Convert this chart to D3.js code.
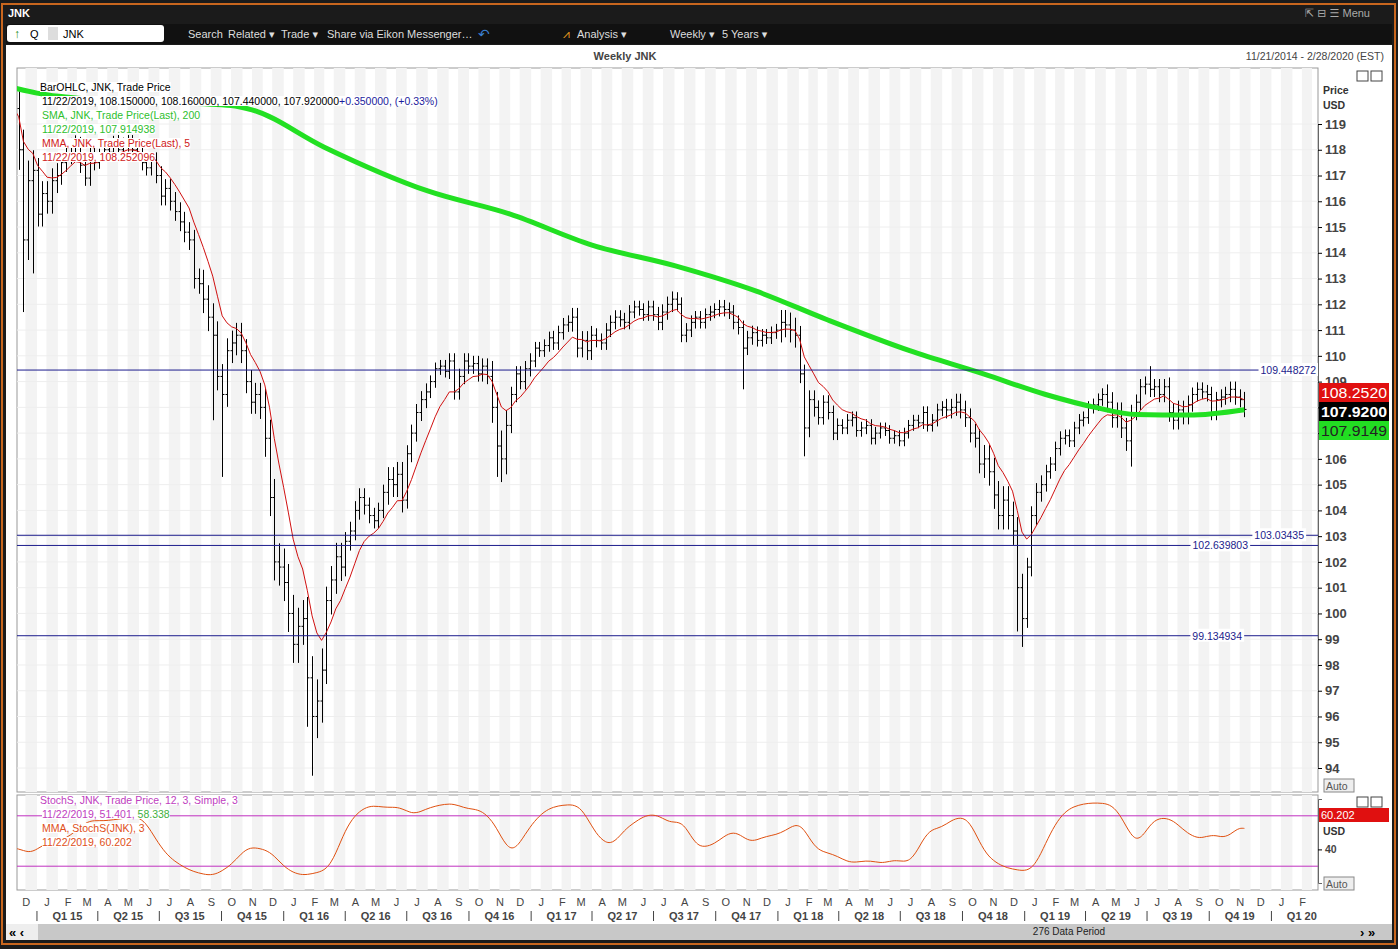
<!DOCTYPE html>
<html><head><meta charset="utf-8">
<script src="https://cdn.jsdelivr.net/npm/d3@7"></script>
<style>body{margin:0;background:#1b1b1b}svg{display:block;font-family:"Liberation Sans","DejaVu Sans",sans-serif}</style>
</head><body><svg id="c" width="1398" height="949"></svg>
<script>
// ---- DATA ----
const startWeek = "2014-11-28";
const closes = [
119.6,
118.0,114.5,116.8,117.2,
115.5,116.3,116.0,116.8,117.0,
117.5,117.8,118.1,118.2,
117.4,116.9,117.8,117.5,
117.8,118.0,117.9,118.3,
118.0,118.2,118.3,118.0,117.8,
117.5,117.3,117.6,117.0,
116.2,116.5,116.0,115.6,115.2,
114.8,114.5,113.0,112.8,
112.2,111.5,110.8,109.2,
108.5,110.2,110.5,110.8,110.2,
109.0,108.2,108.5,108.0,
106.8,104.5,102.0,101.8,
101.2,100.0,98.8,99.5,99.8,
97.5,96.0,96.6,97.8,
100.5,101.3,102.2,101.8,
102.8,103.2,104.0,104.5,104.2,
103.8,103.6,104.0,104.7,
105.2,105.0,105.4,104.4,
106.2,107.0,107.8,108.3,108.6,
109.0,109.5,109.6,109.4,
109.8,108.6,109.2,109.8,109.6,
109.7,109.3,109.6,109.2,
108.0,106.5,106.0,107.3,
108.5,109.3,109.0,109.5,109.8,
110.3,110.2,110.4,110.7,
110.5,110.9,111.2,111.3,
111.5,110.3,110.6,110.2,110.8,
110.6,110.5,111.0,111.3,
111.5,111.4,111.3,111.7,
111.9,111.8,111.6,111.9,111.6,
111.3,111.7,112.0,112.2,
112.0,110.8,111.0,111.3,
111.5,111.3,111.6,111.7,111.8,
111.9,111.8,111.7,111.3,
111.1,110.3,110.7,110.9,
110.6,110.8,110.7,110.9,111.0,
111.3,111.2,111.0,110.8,
109.3,107.2,108.3,108.0,
107.6,108.2,107.8,107.0,107.3,
107.2,107.5,107.6,107.1,
107.2,107.3,106.8,107.0,
107.2,107.1,106.8,106.9,106.7,
107.0,107.3,107.5,107.4,
107.8,107.3,107.5,107.9,108.0,
107.9,108.0,108.2,107.9,
107.6,107.0,106.8,105.8,
106.0,105.5,104.6,103.8,104.4,
103.8,103.2,101.0,99.8,
101.8,103.8,104.7,105.0,
105.5,105.8,106.4,106.8,
106.9,106.7,107.2,107.5,107.6,
108.0,108.1,108.3,108.5,
108.2,107.6,107.8,107.2,106.7,
107.8,108.2,108.8,108.9,
108.7,108.8,108.5,108.8,
107.8,107.5,107.9,107.7,108.1,
108.5,108.7,108.6,108.5,
107.8,108.3,108.4,108.5,
108.7,108.4,108.3,107.92];
// typical weekly high-low range per calendar month (Dec 2014 .. Nov 2019)
const monthRange = [2.6,1.6,1.2,1.0,0.8,0.9,1.0,1.2,1.3,1.8,1.6,1.5,2.4,2.4,2.8,1.8,1.2,1.0,1.6,1.1,0.8,1.0,1.0,2.0,1.0,0.8,0.9,1.2,0.9,0.9,0.8,1.0,0.9,0.8,0.9,0.9,0.8,1.6,1.2,0.9,0.8,0.8,0.7,0.7,0.8,1.1,1.2,1.8,1.8,1.2,0.9,0.8,0.8,1.3,1.0,1.0,1.2,0.9,1.0,1.0];
const lowSpikes = [["2014-12-12",111.7],["2014-12-26",113.2],["2015-09-18",107.5],["2015-10-02",105.3],["2016-02-05",95.6],["2016-02-12",93.7],["2016-11-11",105.3],["2016-11-18",105.1],["2017-11-10",108.7],["2018-02-09",106.1],["2018-12-21",99.3],["2018-12-28",98.7],["2019-06-07",105.7]];
const highSpikes = [["2019-07-05",109.6]];
const smaDates = ["2014-11-28","2015-01-01","2015-04-01","2015-07-01","2015-10-15","2015-11-15","2016-03-01","2016-08-01","2016-12-01","2017-04-01","2017-08-01","2017-12-01","2018-03-15","2018-07-15","2018-11-01","2019-02-01","2019-04-15","2019-06-15","2019-09-01","2019-11-22"];
const smaValues = [120.4,120.2,119.95,119.85,119.72,119.55,118.1,116.4,115.5,114.3,113.5,112.5,111.4,110.2,109.3,108.5,108.0,107.72,107.7,107.91];
const hLines = [109.448272,103.03435,102.639803,99.134934];
const priceTicks = d3.range(94,120);
const monthLetters = ["J","F","M","A","M","J","J","A","S","O","N","D"];

// ---- LAYOUT ----
const svg = d3.select("#c");
const L=17,R=1318,T=68,B=792, ST=795, SB=890;
const FS=10.5;
svg.append("rect").attr("width",1398).attr("height",949).attr("fill","#1b1b1b");
svg.append("rect").attr("x",2).attr("y",4).attr("width",1393).attr("height",940).attr("fill","none").attr("stroke","#c8661e").attr("stroke-width",2);
svg.append("text").attr("x",8).attr("y",17).attr("fill","#fff").attr("font-weight","bold").attr("font-size",11).text("JNK");
svg.append("text").attr("x",1305).attr("y",17).attr("fill","#aaa").attr("font-size",11).text("⇱  ⊟  ☰ Menu");
svg.append("rect").attr("x",6).attr("y",24).attr("width",1386).attr("height",20).attr("fill","#111");
svg.append("rect").attr("x",7).attr("y",25).attr("width",157).attr("height",17).attr("rx",3).attr("fill","#fff");
svg.append("text").attr("x",14).attr("y",38).attr("fill","#1a8a1a").attr("font-size",12).text("↑");
svg.append("text").attr("x",30).attr("y",38).attr("fill","#000").attr("font-size",11).text("Q");
svg.append("rect").attr("x",48).attr("y",27).attr("width",10).attr("height",13).attr("fill","#ddd");
svg.append("text").attr("x",63).attr("y",38).attr("fill","#000").attr("font-size",11).text("JNK");
const tb=[[188,"Search"],[228,"Related ▾"],[281,"Trade ▾"],[327,"Share via Eikon Messenger…"],[577,"Analysis ▾"],[670,"Weekly ▾"],[722,"5 Years ▾"]];
tb.forEach(d=>svg.append("text").attr("x",d[0]).attr("y",38).attr("fill","#ddd").attr("font-size",11).text(d[1]));
svg.append("text").attr("x",563).attr("y",38).attr("fill","#f0a020").attr("font-size",12).text("⩘");
svg.append("text").attr("x",478).attr("y",39).attr("fill","#3a7fd0").attr("font-size",14).text("↶");
svg.append("rect").attr("x",6).attr("y",45).attr("width",1386).attr("height",880).attr("fill","#fff");
svg.append("text").attr("x",625).attr("y",60).attr("text-anchor","middle").attr("font-size",11).attr("font-weight","bold").attr("fill","#444").text("Weekly JNK");
svg.append("text").attr("x",1384).attr("y",60).attr("text-anchor","end").attr("font-size",FS).attr("fill","#444").text("11/21/2014 - 2/28/2020 (EST)");

const x = d3.scaleTime().domain([new Date(2014,11,1),new Date(2020,2,1)]).range([16,1312]);
const y = d3.scaleLinear().domain([94,119]).range([768,124]);
const ys = d3.scaleLinear().domain([0,100]).range([883,799]);
const P = s=>new Date(s+"T00:00:00");

const months = d3.timeMonth.range(new Date(2014,10,1),new Date(2020,3,1));
const g = svg.append("g");
g.append("rect").attr("x",L).attr("y",T).attr("width",R-L).attr("height",B-T).attr("fill","#fff").attr("stroke","#999");
g.append("rect").attr("x",L).attr("y",ST).attr("width",R-L).attr("height",SB-ST).attr("fill","#fff").attr("stroke","#999");
svg.append("clipPath").attr("id","cp").append("rect").attr("x",L).attr("y",T).attr("width",R-L).attr("height",SB-T);
const gc = svg.append("g").attr("clip-path","url(#cp)");
months.forEach(m=>{
  const a=x(d3.timeDay.offset(m,14)), b=x(d3.timeMonth.offset(m,1));
  [[T,B],[ST,SB]].forEach(r=>gc.append("rect").attr("x",a).attr("y",r[0]).attr("width",b-a).attr("height",r[1]-r[0]).attr("fill","#f3f3f3"));
});
priceTicks.forEach(p=>gc.append("line").attr("x1",L).attr("x2",R).attr("y1",y(p)).attr("y2",y(p)).attr("stroke","#eee"));

const dates = closes.map((c,i)=>d3.timeWeek.offset(P(startWeek),i));
const key = d=>d3.timeFormat("%Y-%m-%d")(d);
const lows = new Map(lowSpikes), highs = new Map(highSpikes);
const bars = closes.map((c,i)=>{
  const d=dates[i]; const mi=(d.getFullYear()-2014)*12+d.getMonth()-11;
  const r=monthRange[Math.max(0,Math.min(monthRange.length-1,mi))];
  const o = i>0?closes[i-1]:c+0.3;
  let hi=Math.max(o,c)+r*0.3, lo=Math.min(o,c)-r*0.3;
  if(lows.has(key(d))) lo=lows.get(key(d));
  if(highs.has(key(d))) hi=highs.get(key(d));
  return {d,o,h:hi,l:lo,c};
});
const bg = gc.append("g").attr("stroke","#000").attr("stroke-width",1);
bars.forEach(b=>{
  const xx=Math.round(x(b.d))+0.5;
  bg.append("line").attr("x1",xx).attr("x2",xx).attr("y1",y(b.h)).attr("y2",y(b.l));
  bg.append("line").attr("x1",xx-2).attr("x2",xx).attr("y1",y(b.o)).attr("y2",y(b.o));
  bg.append("line").attr("x1",xx).attr("x2",xx+2).attr("y1",y(b.c)).attr("y2",y(b.c));
});
let m=closes[0]; const mma=closes.map(c=>(m=m+(c-m)/5));
gc.append("path").datum(mma).attr("fill","none").attr("stroke","#d01010").attr("stroke-width",1)
 .attr("d",d3.line().x((v,i)=>x(dates[i])).y(v=>y(v)));
gc.append("path").datum(smaDates.map((d,i)=>[P(d),smaValues[i]])).attr("fill","none").attr("stroke","#22e022").attr("stroke-width",5)
 .attr("d",d3.line().x(d=>x(d[0])).y(d=>y(d[1])).curve(d3.curveMonotoneX));
hLines.forEach((v,i)=>{
  gc.append("line").attr("x1",L).attr("x2",R).attr("y1",y(v)).attr("y2",y(v)).attr("stroke","#1c1c8c");
  const lx=[1318,1306,1250,1244][i];
  const t=svg.append("text").attr("x",lx-2).attr("y",y(v)+4).attr("text-anchor","end").attr("font-size",FS).attr("fill","#1c1c8c").text(v);
  const bb=t.node().getBBox();
  svg.insert("rect","text:last-of-type").attr("x",bb.x-2).attr("y",y(v)-7).attr("width",bb.width+4).attr("height",13).attr("fill","#fff");
  t.raise();
});
const lgG=svg.append("g").attr("font-size",FS);
function legendLine(xx,yy,parts){
  const t=lgG.append("text").attr("x",xx).attr("y",yy);
  parts.forEach(p=>t.append("tspan").attr("fill",p[1]).text(p[0]));
  const bb=t.node().getBBox();
  lgG.insert("rect","text").attr("x",bb.x).attr("y",bb.y+1).attr("width",bb.width).attr("height",bb.height-2).attr("fill","#fff");
}
legendLine(40,91,[["BarOHLC, JNK, Trade Price","#000"]]);
legendLine(42,105,[["11/22/2019, 108.150000, 108.160000, 107.440000, 107.920000","#000"],["+0.350000, (+0.33%)","#1c1c9c"]]);
legendLine(42,119,[["SMA, JNK, Trade Price(Last),  200","#2ec02e"]]);
legendLine(42,133,[["11/22/2019, 107.914938","#2ec02e"]]);
legendLine(42,147,[["MMA, JNK, Trade Price(Last),  5","#d02020"]]);
legendLine(42,161,[["11/22/2019, 108.252096","#d02020"]]);

svg.append("text").attr("x",1323).attr("y",94).attr("font-size",FS).attr("font-weight","bold").attr("fill","#333").text("Price");
svg.append("text").attr("x",1323).attr("y",109).attr("font-size",FS).attr("font-weight","bold").attr("fill","#333").text("USD");
const ag = svg.append("g").attr("transform",`translate(${R},0)`).call(d3.axisRight(y).tickValues(priceTicks).tickSize(4).tickFormat(d3.format("d")));
ag.select(".domain").attr("stroke","#666");
ag.selectAll("text").attr("font-size",13).attr("font-weight","bold").attr("fill","#444").attr("font-family","'Liberation Sans','DejaVu Sans',sans-serif");
const tags=[["108.2520","#e01010","#fff",392],["107.9200","#000","#fff",411],["107.9149","#22dd22","#222",430]];
tags.forEach(t=>{
  svg.append("rect").attr("x",1319).attr("y",t[3]-9).attr("width",70).attr("height",19).attr("fill",t[1]);
  svg.append("text").attr("x",1321).attr("y",t[3]+6).attr("font-size",15).attr("textLength",66).attr("lengthAdjust","spacingAndGlyphs").attr("font-weight",t[0]==="107.9200"?"bold":"normal").attr("fill",t[2]).text(t[0]);
});
[[786],[884]].forEach(a=>{svg.append("rect").attr("x",1324).attr("y",a[0]-7).attr("width",30).attr("height",13).attr("fill","#eee").attr("stroke","#888");
 svg.append("text").attr("x",1326).attr("y",a[0]+4).attr("font-size",FS).attr("fill","#555").text("Auto");});
[[1357,71],[1371,71],[1357,797],[1371,797]].forEach(p=>svg.append("rect").attr("x",p[0]).attr("y",p[1]).attr("width",11).attr("height",10).attr("fill","#fff").attr("stroke","#444"));

const K=closes.map((c,i)=>{const s=Math.max(0,i-11);const hh=d3.max(bars.slice(s,i+1),b=>b.h),ll=d3.min(bars.slice(s,i+1),b=>b.l);return (c-ll)/(hh-ll)*100;});
const sma3=a=>a.map((v,i)=>d3.mean(a.slice(Math.max(0,i-2),i+1)));
const slowD=sma3(sma3(K));
let sm=slowD[0]; const smma=slowD.map(v=>(sm=sm+(v-sm)/3));
[80,20].forEach(v=>gc.append("line").attr("x1",L).attr("x2",R).attr("y1",ys(v)).attr("y2",ys(v)).attr("stroke","#c030c0"));
gc.append("path").datum(smma).attr("fill","none").attr("stroke","#e05010").attr("stroke-width",1)
 .attr("d",d3.line().x((v,i)=>x(dates[i])).y(v=>ys(v)).curve(d3.curveBasis));
legendLine(40,804,[["StochS, JNK, Trade Price,  12, 3, Simple, 3","#c040c0"]]);
legendLine(42,818,[["11/22/2019, 51.401, ","#c040c0"],["58.338","#40b040"]]);
legendLine(42,832,[["MMA, StochS(JNK),  3","#e05020"]]);
legendLine(42,846,[["11/22/2019, 60.202","#e05020"]]);
lgG.raise();
svg.append("g").attr("transform",`translate(${R},0)`).call(d3.axisRight(ys).tickValues([40]).tickSize(4)).call(g=>{g.select(".domain").attr("stroke","#666");g.selectAll("text").attr("font-size",FS).attr("font-weight","bold").attr("fill","#444");});
svg.append("rect").attr("x",1319).attr("y",808).attr("width",70).attr("height",14).attr("fill","#e01010");
svg.append("text").attr("x",1321).attr("y",819).attr("fill","#fff").attr("font-size",11).text("60.202");
svg.append("text").attr("x",1323).attr("y",835).attr("fill","#333").attr("font-size",FS).attr("font-weight","bold").text("USD");

const ta=svg.append("g").attr("font-size",11).attr("fill","#444");
months.filter(mm=>mm>=new Date(2014,11,1)&&mm<new Date(2020,2,1)).forEach(mm=>{
  ta.append("text").attr("x",x(d3.timeDay.offset(mm,15))).attr("y",906).attr("text-anchor","middle").text(monthLetters[mm.getMonth()]);
  if(mm.getMonth()%3===0){
    ta.append("line").attr("x1",x(mm)).attr("x2",x(mm)).attr("y1",911).attr("y2",921).attr("stroke","#444");
    const q=mm.getMonth()/3+1, yr=String(mm.getFullYear()).slice(2);
    ta.append("text").attr("x",x(d3.timeDay.offset(mm,45))).attr("y",920).attr("text-anchor","middle").attr("font-weight","bold").text(`Q${q} ${yr}`);
  }
});
svg.append("rect").attr("x",6).attr("y",924).attr("width",1386).attr("height",16).attr("fill","#c8c8c8");
svg.append("rect").attr("x",6).attr("y",924).attr("width",32).attr("height",16).attr("fill","#eee");
svg.append("text").attr("x",9).attr("y",937).attr("font-size",13).attr("font-weight","bold").text("« ‹");
svg.append("text").attr("x",1360).attr("y",937).attr("font-size",13).attr("font-weight","bold").text("› »");
svg.append("text").attr("x",1069).attr("y",935).attr("text-anchor","middle").attr("font-size",10).attr("fill","#222").text("276 Data Period");
</script></body></html>
